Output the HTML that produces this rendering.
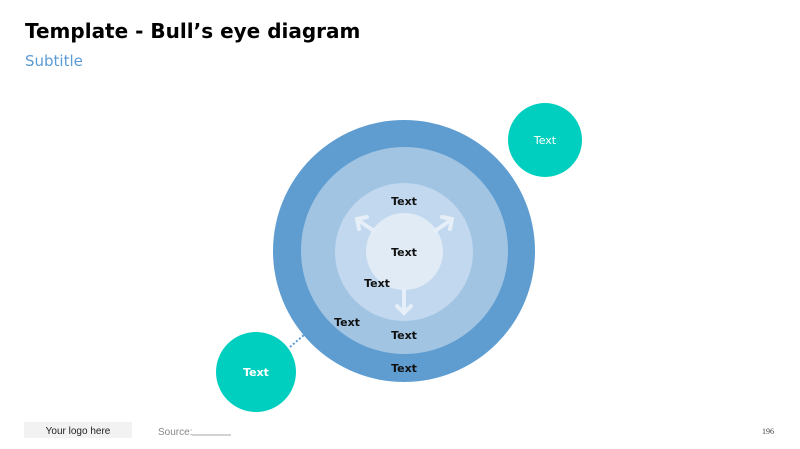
<!DOCTYPE html>
<html><head><meta charset="utf-8"><style>
body{margin:0;width:800px;height:449px;background:#fff;position:relative;overflow:hidden;font-family:"DejaVu Sans","Liberation Sans",sans-serif}
.t{position:absolute;white-space:nowrap}
</style></head><body>
<div class="t" style="left:25px;top:19px;font-size:20px;font-weight:bold;color:#000">Template - Bull’s eye diagram</div>
<div class="t" style="left:25px;top:52px;font-size:15px;color:#5b9bd5">Subtitle</div>
<svg width="800" height="449" style="position:absolute;left:0;top:0" font-family="DejaVu Sans, sans-serif">
<line x1="290" y1="347" x2="304" y2="335" stroke="#5b9bd5" stroke-width="2" stroke-dasharray="2,2"/>
<circle cx="404" cy="251" r="131" fill="#5f9dd0"/>
<circle cx="404.5" cy="250.5" r="103.5" fill="#a1c4e3"/>
<circle cx="404" cy="252" r="69" fill="#c1d8ee"/>
<circle cx="404.5" cy="251.5" r="38.5" fill="#e1ebf5"/>
<g stroke="#e6eef7" stroke-width="4" fill="none" stroke-linecap="round">
<line x1="374" y1="231" x2="358" y2="220"/>
<polyline points="359,229 357,219 367,217"/>
<line x1="435" y1="231" x2="451" y2="220"/>
<polyline points="442,217 452,219 450,229"/>
<line x1="404" y1="290" x2="404" y2="312"/>
<polyline points="397,306 404,313 411,306"/>
</g>
<circle cx="545" cy="140" r="37" fill="#00cfbf"/>
<circle cx="256" cy="372" r="40" fill="#00cfbf"/>
<g font-size="11" font-weight="bold" fill="#111" text-anchor="middle">
<text x="404" y="205">Text</text>
<text x="404" y="256">Text</text>
<text x="377" y="287">Text</text>
<text x="347" y="326">Text</text>
<text x="404" y="339">Text</text>
<text x="404" y="372">Text</text>
<text x="256" y="376" fill="#fff">Text</text>
</g>
<text x="545" y="144" font-size="11" fill="#fff" text-anchor="middle">Text</text>
<rect x="24" y="422" width="108" height="16" fill="#f2f2f2"/>
<text x="78" y="434" font-size="10" fill="#222" text-anchor="middle" font-family="Liberation Sans, sans-serif">Your logo here</text>
<text x="158" y="435" font-size="10" fill="#888" font-family="Liberation Sans, sans-serif">Source:</text>
<line x1="192" y1="435" x2="231" y2="435" stroke="#888" stroke-width="0.8"/>
<text x="762" y="434" font-size="8" fill="#444" font-family="Liberation Serif, serif">196</text>
</svg>
</body></html>
